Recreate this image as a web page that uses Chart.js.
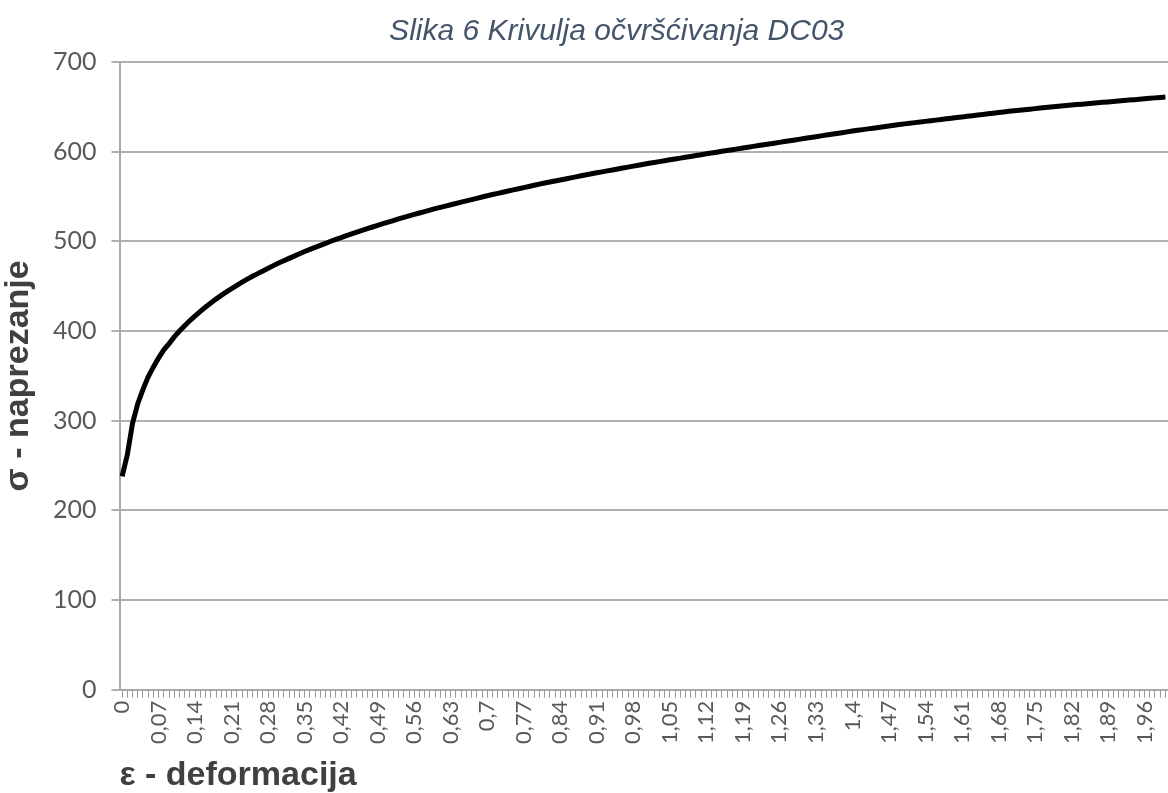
<!DOCTYPE html>
<html>
<head>
<meta charset="utf-8">
<title>Krivulja očvršćivanja DC03</title>
<script src="https://cdn.jsdelivr.net/npm/chart.js@4.4.1/dist/chart.umd.min.js"></script>
<style>
  html, body { margin: 0; padding: 0; background: #fff; }
  #wrap { width: 1168px; height: 793px; position: relative; }
</style>
</head>
<body>
<div id="wrap"><canvas id="krivulja"></canvas></div>
<script>
/* naslov i osi */
const chartTitle = "Slika 6 Krivulja očvršćivanja DC03";
const xTitle = "ε - deformacija";
const yTitle = "σ - naprezanje";

/* deformacija (kategorije) */
const deformacija = [
    0, 0.01, 0.02, 0.03, 0.04, 0.05, 0.06, 0.07, 0.08, 0.09,
    0.1, 0.11, 0.12, 0.13, 0.14, 0.15, 0.16, 0.17, 0.18, 0.19,
    0.2, 0.21, 0.22, 0.23, 0.24, 0.25, 0.26, 0.27, 0.28, 0.29,
    0.3, 0.31, 0.32, 0.33, 0.34, 0.35, 0.36, 0.37, 0.38, 0.39,
    0.4, 0.41, 0.42, 0.43, 0.44, 0.45, 0.46, 0.47, 0.48, 0.49,
    0.5, 0.51, 0.52, 0.53, 0.54, 0.55, 0.56, 0.57, 0.58, 0.59,
    0.6, 0.61, 0.62, 0.63, 0.64, 0.65, 0.66, 0.67, 0.68, 0.69,
    0.7, 0.71, 0.72, 0.73, 0.74, 0.75, 0.76, 0.77, 0.78, 0.79,
    0.8, 0.81, 0.82, 0.83, 0.84, 0.85, 0.86, 0.87, 0.88, 0.89,
    0.9, 0.91, 0.92, 0.93, 0.94, 0.95, 0.96, 0.97, 0.98, 0.99,
    1, 1.01, 1.02, 1.03, 1.04, 1.05, 1.06, 1.07, 1.08, 1.09,
    1.1, 1.11, 1.12, 1.13, 1.14, 1.15, 1.16, 1.17, 1.18, 1.19,
    1.2, 1.21, 1.22, 1.23, 1.24, 1.25, 1.26, 1.27, 1.28, 1.29,
    1.3, 1.31, 1.32, 1.33, 1.34, 1.35, 1.36, 1.37, 1.38, 1.39,
    1.4, 1.41, 1.42, 1.43, 1.44, 1.45, 1.46, 1.47, 1.48, 1.49,
    1.5, 1.51, 1.52, 1.53, 1.54, 1.55, 1.56, 1.57, 1.58, 1.59,
    1.6, 1.61, 1.62, 1.63, 1.64, 1.65, 1.66, 1.67, 1.68, 1.69,
    1.7, 1.71, 1.72, 1.73, 1.74, 1.75, 1.76, 1.77, 1.78, 1.79,
    1.8, 1.81, 1.82, 1.83, 1.84, 1.85, 1.86, 1.87, 1.88, 1.89,
    1.9, 1.91, 1.92, 1.93, 1.94, 1.95, 1.96, 1.97, 1.98, 1.99,
    2
];

/* naprezanje, očitano sa slike */
const naprezanje = [
    238, 262, 297, 319, 335, 349, 360, 370, 379, 386,
    393.5, 400, 406, 411.7, 417, 422, 426.8, 431.3, 435.6, 439.7,
    443.6, 447.3, 451, 454.5, 457.8, 461.1, 464, 467, 469.9, 472.9,
    475.8, 478.4, 481, 483.5, 486.1, 488.7, 491, 493.3, 495.5, 497.8,
    500.1, 502.2, 504.2, 506.3, 508.3, 510.4, 512.3, 514.2, 516, 517.9,
    519.8, 521.5, 523.2, 525, 526.7, 528.4, 530, 531.6, 533.2, 534.8,
    536.4, 537.9, 539.3, 540.8, 542.2, 543.7, 545.1, 546.6, 548, 549.5,
    550.9, 552.2, 553.5, 554.8, 556.1, 557.4, 558.6, 559.9, 561.2, 562.5,
    563.8, 565, 566.1, 567.3, 568.4, 569.6, 570.8, 571.9, 573.1, 574.2,
    575.4, 576.5, 577.5, 578.6, 579.6, 580.7, 581.8, 582.8, 583.9, 584.9,
    586, 587, 587.9, 588.9, 589.9, 590.9, 591.8, 592.8, 593.8, 594.7,
    595.7, 596.6, 597.6, 598.5, 599.4, 600.4, 601.3, 602.2, 603.1, 604.1,
    605, 605.9, 606.8, 607.7, 608.6, 609.5, 610.4, 611.3, 612.2, 613.1,
    614, 614.9, 615.8, 616.7, 617.6, 618.5, 619.4, 620.3, 621.2, 622.1,
    623, 623.8, 624.6, 625.4, 626.2, 627, 627.8, 628.6, 629.4, 630.2,
    631, 631.7, 632.4, 633.1, 633.8, 634.5, 635.2, 635.9, 636.6, 637.3,
    638, 638.7, 639.4, 640.1, 640.8, 641.5, 642.2, 642.9, 643.6, 644.3,
    645, 645.6, 646.2, 646.8, 647.4, 648, 648.6, 649.2, 649.8, 650.4,
    651, 651.5, 652, 652.5, 653, 653.5, 654, 654.5, 655, 655.5,
    656, 656.5, 657, 657.5, 658, 658.5, 659, 659.5, 660, 660.5,
    661
];

/* oznake na osi y */
const yTicks = [0, 100, 200, 300, 400, 500, 600, 700];
const labelStep = 7;

/* naslov iznad grafa (Excel ga ne centrira točno) */
const titlePlugin = {
    id: "naslov",
    afterDraw(chart) {
        const ctx = chart.ctx;
        ctx.save();
        ctx.font = "italic 30px 'Liberation Sans', Arial, sans-serif";
        ctx.fillStyle = "#44546a";
        ctx.textAlign = "center";
        ctx.textBaseline = "middle";
        ctx.fillText(chartTitle, chart.width * 0.528, 32);
        ctx.restore();
    }
};

const whiteBg = {
    id: "bijelo",
    beforeDraw(chart) {
        const ctx = chart.ctx;
        ctx.save();
        ctx.fillStyle = "#fff";
        ctx.fillRect(0, 0, chart.width, chart.height);
        ctx.restore();
    }
};

const ctx = document.getElementById("krivulja").getContext("2d");
const krivulja = new Chart(ctx, {
    type: "line",
    data: {
        labels: deformacija,
        datasets: [
            {
                label: yTitle,
                data: naprezanje,
                borderColor: "#000",
                borderWidth: 5,
                pointRadius: 0,
                tension: 0,
                fill: false,
            },
        ],
    },
    options: {
        responsive: true,
        maintainAspectRatio: false,
        animation: false,
        layout: { padding: { top: 62, left: 0, right: 0, bottom: 0 } },
        plugins: {
            legend: { display: false },
            title: { display: false },
            tooltip: { enabled: false },
        },
        scales: {
            x: {
                type: "category",
                offset: true,
                // graf ide do desnog ruba kao u originalu
                afterFit: function (scale) {
                    scale.paddingRight = 0;
                },
                grid: {
                    drawOnChartArea: false,
                    drawTicks: true,
                    tickLength: 8,
                    color: "#9a9a9a",
                    lineWidth: 1,
                },
                border: { color: "#a8a8a8", width: 2 },
                ticks: {
                    autoSkip: false,
                    maxRotation: 90,
                    minRotation: 90,
                    padding: 3,
                    color: "#595959",
                    font: { family: "Lato", size: 22 },
                    callback: function (value, index) {
                        if (index % labelStep !== 0) return "";
                        return String(deformacija[index]).replace(".", ",");
                    },
                },
                title: {
                    display: true,
                    text: xTitle,
                    align: "start",
                    color: "#404040",
                    font: { family: "'Liberation Sans', Arial, sans-serif", size: 34, weight: "bold", lineHeight: 1 },
                    padding: { top: 12, bottom: 0 },
                },
            },
            y: {
                min: 0,
                max: 700,
                afterBuildTicks: function (scale) {
                    scale.ticks = yTicks.map(function (v) { return { value: v }; });
                },
                grid: {
                    color: "#b0b0b0",
                    lineWidth: 2,
                    tickLength: 8,
                },
                border: { color: "#a8a8a8", width: 2 },
                ticks: {
                    padding: 15,
                    color: "#595959",
                    font: { family: "Lato", size: 25 },
                },
                title: {
                    display: true,
                    text: yTitle,
                    color: "#404040",
                    font: { family: "'Liberation Sans', Arial, sans-serif", size: 34, weight: "bold", lineHeight: 1 },
                    padding: { top: 2, bottom: 2 },
                },
            },
        },
    },
    plugins: [whiteBg, titlePlugin],
});
</script>
</body>
</html>
